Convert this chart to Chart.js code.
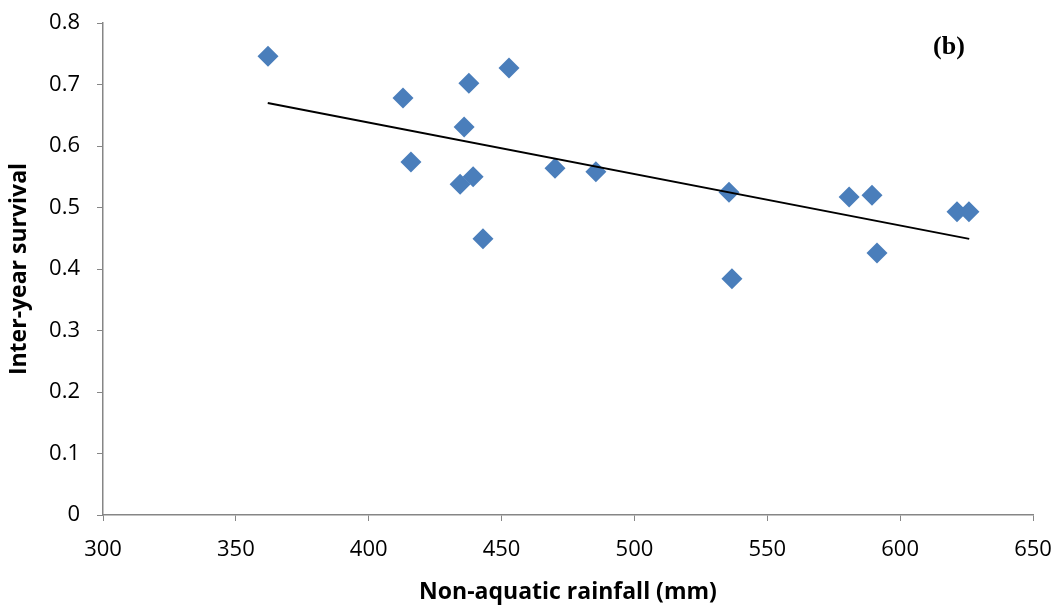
<!DOCTYPE html>
<html>
<head>
<meta charset="utf-8">
<script src="https://cdn.jsdelivr.net/npm/chart.js@4"></script>
<style>
html,body{margin:0;padding:0;background:#fff;}
#wrap{width:1060px;height:610px;position:relative;}
</style>
</head>
<body>
<div id="wrap"><canvas id="c" width="1060" height="610"></canvas></div>
<script>
// Data
const rainfall = [362.1, 412.9, 437.7, 452.8, 435.9, 415.9, 434.4, 439.3, 443.0, 470.1, 485.5, 535.6, 536.7, 580.8, 589.4, 591.3, 621.4, 625.9];
const survival = [0.746, 0.678, 0.702, 0.727, 0.631, 0.574, 0.538, 0.550, 0.449, 0.564, 0.558, 0.525, 0.384, 0.517, 0.520, 0.426, 0.493, 0.493];
const trendX = [362, 626];
const trendY = [0.670, 0.449];
const xTicks = [300, 350, 400, 450, 500, 550, 600, 650];
const yTicks = [0, 0.1, 0.2, 0.3, 0.4, 0.5, 0.6, 0.7, 0.8];
const xTitle = 'Non-aquatic rainfall (mm)';
const yTitle = 'Inter-year survival';
const panelLabel = '(b)';

const axisColor = '#868686';
const tickFont = {family: '"Open Sans", sans-serif', size: 22};
const titleFont = {family: '"Open Sans", sans-serif', size: 23, weight: 'bold'};

const labelPlugin = {
  id: 'panelLabel',
  afterDraw(chart) {
    const ctx = chart.ctx;
    const a = chart.chartArea;
    ctx.save();
    ctx.font = 'bold 26px "Liberation Serif", "Times New Roman", serif';
    ctx.fillStyle = '#000';
    ctx.textAlign = 'center';
    ctx.textBaseline = 'middle';
    ctx.fillText(panelLabel, a.right - 84, a.top + 24);
    ctx.restore();
  }
};

new Chart(document.getElementById('c'), {
  type: 'scatter',
  data: {
    datasets: [
      {
        label: 'Survival',
        data: rainfall.map((x, i) => ({x: x, y: survival[i]})),
        pointStyle: 'rectRot',
        pointRadius: 10.5,
        pointHoverRadius: 10.5,
        backgroundColor: '#4A7EBB',
        borderColor: '#4A7EBB',
        borderWidth: 0,
        order: 1
      },
      {
        label: 'Trend',
        data: trendX.map((x, i) => ({x: x, y: trendY[i]})),
        showLine: true,
        pointRadius: 0,
        borderColor: '#000',
        borderWidth: 2,
        order: 0
      }
    ]
  },
  options: {
    responsive: false,
    animation: false,
    devicePixelRatio: 1,
    layout: {padding: {top: 23, right: 27, bottom: 0, left: 0}},
    plugins: {legend: {display: false}, tooltip: {enabled: false}},
    scales: {
      x: {
        type: 'linear',
        min: 300, max: 650,
        afterBuildTicks: (s) => { s.ticks = xTicks.map(v => ({value: v})); },
        afterFit: (s) => { s.height = 95; s.paddingLeft = 0; s.paddingRight = 0; },
        ticks: {font: tickFont, color: '#000', padding: 16, maxRotation: 0},
        grid: {display: true, drawOnChartArea: false, drawTicks: true, tickLength: 6, color: axisColor, lineWidth: 1},
        border: {display: true, color: axisColor, width: 1.5},
        title: {display: true, text: xTitle, font: titleFont, color: '#000', padding: {top: 0, bottom: 4}}
      },
      y: {
        type: 'linear',
        min: 0, max: 0.8,
        afterBuildTicks: (s) => { s.ticks = yTicks.map(v => ({value: v})); },
        afterFit: (s) => { s.width = 103; s.paddingTop = 0; s.paddingBottom = 0; },
        ticks: {font: tickFont, color: '#000', padding: 17, callback: (v) => String(v)},
        grid: {display: true, drawOnChartArea: false, drawTicks: true, tickLength: 6, color: axisColor, lineWidth: 1},
        border: {display: true, color: axisColor, width: 1.5},
        title: {display: true, text: yTitle, font: titleFont, color: '#000', padding: {top: 6, bottom: 0}}
      }
    }
  },
  plugins: [labelPlugin]
});
</script>
</body>
</html>
